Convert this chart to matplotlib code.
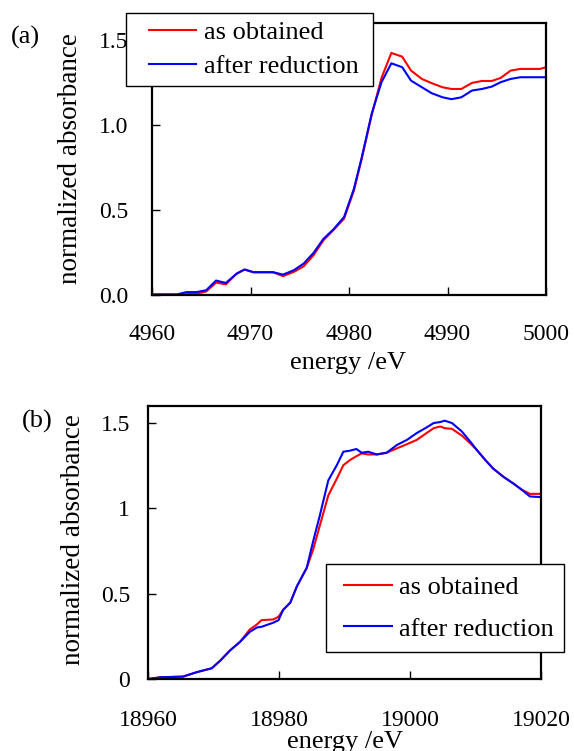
import matplotlib
matplotlib.use("Agg")
import matplotlib.pyplot as plt
from matplotlib.lines import Line2D
from matplotlib.legend_handler import HandlerLine2D

plt.rcParams['font.family'] = ['Liberation Serif', 'DejaVu Serif']

# ---- data: panel (a) ----
a_energy = [4960, 4962.5, 4963.5, 4964.5, 4965.5, 4966.5, 4967.5, 4968.6, 4969.4, 4970.3,
            4972.3, 4973.3, 4974.4, 4975.4, 4976.4, 4977.4, 4978.4, 4979.5, 4980.5, 4981.3,
            4982.3, 4983.3, 4984.3, 4985.4, 4986.3, 4987.4, 4988.4, 4989.5, 4990.4, 4991.4,
            4992.5, 4993.5, 4994.5, 4995.4, 4996.4, 4997.4, 4999.4, 5000]
a_obtained = [0, 0, 0.002, 0.004, 0.018, 0.07, 0.06, 0.123, 0.147, 0.131,
              0.131, 0.108, 0.133, 0.166, 0.231, 0.319, 0.378, 0.446, 0.612, 0.80,
              1.055, 1.274, 1.421, 1.399, 1.317, 1.268, 1.243, 1.219, 1.209, 1.209,
              1.245, 1.256, 1.256, 1.274, 1.317, 1.327, 1.327, 1.337]
a_reduced = [0, 0, 0.014, 0.014, 0.025, 0.082, 0.068, 0.123, 0.147, 0.131,
             0.131, 0.117, 0.143, 0.182, 0.245, 0.327, 0.382, 0.456, 0.622, 0.808,
             1.063, 1.249, 1.36, 1.337, 1.258, 1.219, 1.184, 1.160, 1.149, 1.160,
             1.200, 1.209, 1.223, 1.249, 1.268, 1.278, 1.278, 1.278]

# ---- data: panel (b) ----
b_energy = [18960, 18961.8, 18965.3, 18967.4, 18969.7, 18971.0, 18972.5, 18974.0, 18975.5, 18976.6,
            18977.3, 18979.1, 18979.9, 18980.6, 18981.7, 18982.7, 18984.2, 18985.2, 18986.2, 18987.5,
            18988.8, 18989.8, 18990.8, 18991.8, 18992.6, 18993.6, 18994.9, 18996.4, 18998.0, 18999.5,
            19001.0, 19002.5, 19003.6, 19004.6, 19005.3, 19006.4, 19007.9, 19009.2, 19010.2, 19011.5,
            19012.7, 19014.3, 19015.8, 19017.0, 19018.3, 19020]
b_obtained = [0, 0.01, 0.014, 0.04, 0.063, 0.108, 0.168, 0.217, 0.290, 0.320,
              0.345, 0.349, 0.365, 0.405, 0.448, 0.543, 0.651, 0.760, 0.898, 1.076,
              1.174, 1.253, 1.283, 1.306, 1.322, 1.316, 1.316, 1.326, 1.352, 1.376,
              1.401, 1.441, 1.470, 1.480, 1.470, 1.466, 1.427, 1.381, 1.342, 1.283,
              1.233, 1.184, 1.145, 1.111, 1.085, 1.085]
b_reduced = [0, 0.01, 0.014, 0.04, 0.063, 0.108, 0.168, 0.217, 0.276, 0.302,
             0.306, 0.330, 0.345, 0.405, 0.448, 0.543, 0.651, 0.809, 0.957, 1.164,
             1.253, 1.332, 1.338, 1.348, 1.326, 1.332, 1.316, 1.326, 1.372, 1.401,
             1.441, 1.474, 1.500, 1.506, 1.514, 1.500, 1.451, 1.391, 1.342, 1.283,
             1.233, 1.184, 1.145, 1.111, 1.070, 1.066]

series_labels = ["as obtained", "after reduction"]
series_colors = ["#ff0000", "#0000ff"]

a_xticks = [4960, 4970, 4980, 4990, 5000]
a_yticks = [0, 0.5, 1.0, 1.5]
a_yticklabels = ["0.0", "0.5", "1.0", "1.5"]
b_xticks = [18960, 18980, 19000, 19020]
b_yticks = [0, 0.5, 1, 1.5]
b_yticklabels = ["0", "0.5", "1", "1.5"]

W, H = 574, 751
fig = plt.figure(figsize=(W / 100, H / 100), dpi=100)

ax1 = fig.add_axes([152 / W, 1 - 294.5 / H, 394 / W, 272 / H])
ax2 = fig.add_axes([148.3 / W, 1 - 679 / H, 392.7 / W, 273 / H])

tick_fs = 17
for ax, xs, ys in ((ax1, a_energy, (a_obtained, a_reduced)),
                   (ax2, b_energy, (b_obtained, b_reduced))):
    for y, lab, col in zip(ys, series_labels, series_colors):
        ax.plot(xs, y, color=col, lw=1.5, label=lab)
    for s in ax.spines.values():
        s.set_linewidth(1.6)
        s.set_color("black")
    ax.set_ylim(0, 1.6)
    ax.tick_params(direction='in', length=6, width=1, labelsize=tick_fs, colors='black')

ax1.set_xlim(4960, 5000)
ax1.set_xticks(a_xticks)
ax1.set_yticks(a_yticks)
ax1.set_yticklabels(a_yticklabels)
ax1.tick_params(axis='x', pad=21)
ax1.tick_params(axis='y', pad=17)

ax2.set_xlim(18960, 19020)
ax2.set_xticks(b_xticks)
ax2.set_yticks(b_yticks)
ax2.set_yticklabels(b_yticklabels)
ax2.tick_params(axis='x', pad=22)
ax2.tick_params(axis='y', pad=13)

lab_fs = 19
ax1.set_xlabel("energy /eV", fontsize=lab_fs)
ax1.xaxis.set_label_coords(0.498, -0.212)
ax2.set_xlabel("energy /eV", fontsize=lab_fs)
ax2.xaxis.set_label_coords(0.501, -0.192)

ylab_fs = 19.5
ax1.set_ylabel("normalized absorbance", fontsize=ylab_fs)
ax1.yaxis.set_label_coords(-0.175, 0.50)
ax2.set_ylabel("normalized absorbance", fontsize=ylab_fs)
ax2.yaxis.set_label_coords(-0.158, 0.51)

fig.text(11 / W, 1 - 37 / H, "(a)", fontsize=19, ha='left', va='center')
fig.text(22 / W, 1 - 421 / H, "(b)", fontsize=19, ha='left', va='center')

leg_kw = dict(fontsize=19, frameon=True, fancybox=False, edgecolor='black',
              framealpha=1, borderaxespad=0, loc='upper left', mode='expand',
              bbox_transform=fig.transFigure)
l1 = ax1.legend(bbox_to_anchor=(125.7 / W, 1 - 86 / H, 247 / W, 73.3 / H),
                labelspacing=0.42, borderpad=0.29, handlelength=2.36, handletextpad=0.3,
                handler_map={Line2D: HandlerLine2D(xpad=0.58)}, **leg_kw)
l1.get_frame().set_linewidth(1.0)
l1.set_zorder(5)
l2 = ax2.legend(bbox_to_anchor=(326 / W, 1 - 651.7 / H, 238 / W, 87.7 / H),
                labelspacing=0.67, borderpad=0.45, handlelength=2.05, handletextpad=0.28,
                handler_map={Line2D: HandlerLine2D(xpad=0.23)}, **leg_kw)
l2.get_frame().set_linewidth(1.0)

fig.savefig("out.png", dpi=100)
